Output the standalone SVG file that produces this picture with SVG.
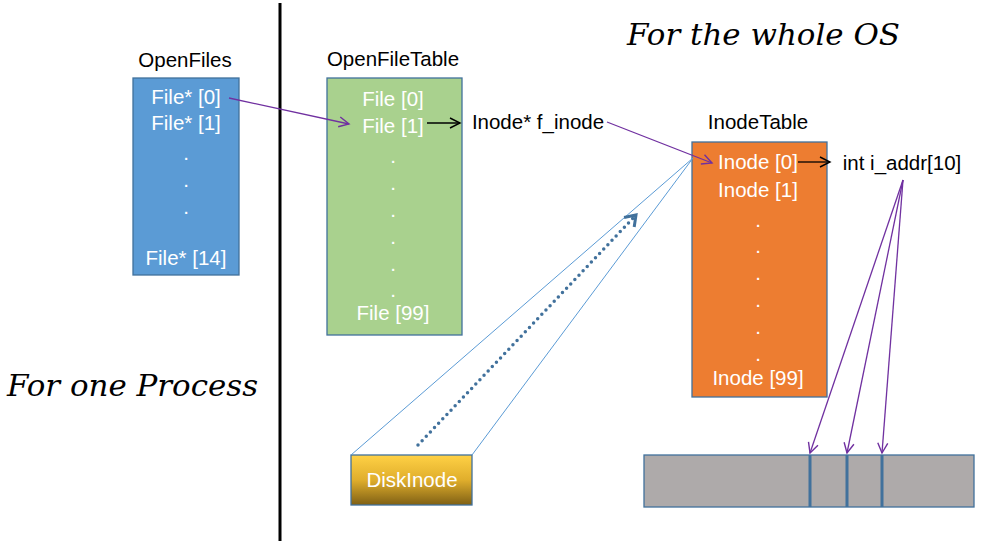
<svg xmlns="http://www.w3.org/2000/svg" width="984" height="542" viewBox="0 0 984 542">
<defs>
<style>
.t{font-family:"Liberation Sans",Arial,sans-serif;font-size:20.5px;text-anchor:middle}
.w{fill:#ffffff}
.k{fill:#000000}
.script{font-family:"DejaVu Serif","Liberation Serif",serif;font-style:italic;font-size:30px;fill:#000}
.box{stroke:#41719C;stroke-width:1.3}
.pur{stroke:#7030A0;stroke-width:1.3;fill:none}
.blk{stroke:#000;stroke-width:1.3;fill:none}
.fan{stroke:#5B9BD5;stroke-width:1;fill:none}
</style>
<marker id="ap" markerUnits="userSpaceOnUse" markerWidth="14" markerHeight="14" refX="12" refY="7" orient="auto" viewBox="0 0 14 14">
<path d="M2,2 L12,7 L2,12" fill="none" stroke="#7030A0" stroke-width="1.4"/>
</marker>
<marker id="ak" markerUnits="userSpaceOnUse" markerWidth="14" markerHeight="14" refX="12" refY="7" orient="auto" viewBox="0 0 14 14">
<path d="M2,2 L12,7 L2,12" fill="none" stroke="#000" stroke-width="1.4"/>
</marker>
<marker id="ab" markerUnits="userSpaceOnUse" markerWidth="18" markerHeight="18" refX="14" refY="9" orient="auto" viewBox="0 0 18 18">
<path d="M4,2 L14,9 L4,16" fill="none" stroke="#41719C" stroke-width="3"/>
</marker>
<linearGradient id="gold" x1="0" y1="0" x2="0" y2="1">
<stop offset="0" stop-color="#FFD145"/>
<stop offset="0.5" stop-color="#E0AE2C"/>
<stop offset="1" stop-color="#7F6015"/>
</linearGradient>
</defs>
<rect width="984" height="542" fill="#ffffff"/>

<line x1="280" y1="3" x2="280" y2="541" stroke="#000" stroke-width="3"/>

<text class="script" x="627" y="45" textLength="273" lengthAdjust="spacingAndGlyphs">For the whole OS</text>
<text class="script" x="7" y="396" textLength="251" lengthAdjust="spacingAndGlyphs">For one Process</text>

<g id="openfiles">
<text class="t k" x="185" y="67">OpenFiles</text>
<rect class="box" x="133" y="78" width="106" height="197" fill="#5B9BD5"/>
<text class="t w" x="186" y="104">File* [0]</text>
<text class="t w" x="186" y="130">File* [1]</text>
<text class="t w" x="186" y="160">.</text>
<text class="t w" x="186" y="187">.</text>
<text class="t w" x="186" y="214">.</text>
<text class="t w" x="186" y="265">File* [14]</text>
</g>

<g id="openfiletable">
<text class="t k" x="393" y="66">OpenFileTable</text>
<rect class="box" x="327" y="78" width="135" height="257" fill="#A9D18E"/>
<text class="t w" x="393" y="106">File [0]</text>
<text class="t w" x="393" y="133">File [1]</text>
<text class="t w" x="393" y="163">.</text>
<text class="t w" x="393" y="190">.</text>
<text class="t w" x="393" y="217">.</text>
<text class="t w" x="393" y="244">.</text>
<text class="t w" x="393" y="271">.</text>
<text class="t w" x="393" y="297">.</text>
<text class="t w" x="393" y="320">File [99]</text>
</g>

<g id="finode">
<text class="t k" x="538" y="129">Inode* f_inode</text>
</g>

<g id="inodetable">
<text class="t k" x="758" y="129">InodeTable</text>
<rect class="box" x="692" y="142" width="135" height="255" fill="#ED7D31"/>
<text class="t w" x="758" y="169">Inode [0]</text>
<text class="t w" x="758" y="197">Inode [1]</text>
<text class="t w" x="758" y="227">.</text>
<text class="t w" x="758" y="253">.</text>
<text class="t w" x="758" y="280">.</text>
<text class="t w" x="758" y="307">.</text>
<text class="t w" x="758" y="334">.</text>
<text class="t w" x="758" y="361">.</text>
<text class="t w" x="758" y="385">Inode [99]</text>
</g>

<g id="iaddr">
<text class="t k" x="902" y="170">int i_addr[10]</text>
</g>

<g id="diskinode">
<rect class="box" x="351" y="455" width="121" height="50" fill="url(#gold)"/>
<text class="t w" x="412" y="487">DiskInode</text>
</g>

<g id="disk">
<rect class="box" x="644" y="455" width="330" height="52" fill="#AEAAAA"/>
<line x1="810" y1="455" x2="810" y2="507" stroke="#41719C" stroke-width="3"/>
<line x1="847" y1="455" x2="847" y2="507" stroke="#41719C" stroke-width="3"/>
<line x1="882" y1="455" x2="882" y2="507" stroke="#41719C" stroke-width="3"/>
</g>

<g id="connectors">
<line class="pur" x1="229" y1="98" x2="349" y2="124" marker-end="url(#ap)"/>
<line class="blk" x1="427" y1="123" x2="460" y2="123" marker-end="url(#ak)"/>
<line class="pur" x1="607" y1="122" x2="712" y2="163" marker-end="url(#ap)"/>
<line class="blk" x1="798" y1="162" x2="830" y2="162" marker-end="url(#ak)"/>
<line class="pur" x1="903" y1="180" x2="810" y2="453" marker-end="url(#ap)"/>
<line class="pur" x1="903" y1="180" x2="847" y2="453" marker-end="url(#ap)"/>
<line class="pur" x1="903" y1="180" x2="882" y2="453" marker-end="url(#ap)"/>
<line class="fan" x1="351" y1="455" x2="693" y2="158"/>
<line class="fan" x1="472" y1="455" x2="693" y2="158"/>
<line x1="418" y1="445" x2="636" y2="215" stroke="#41719C" stroke-width="3.5" stroke-linecap="round" stroke-dasharray="0 6" marker-end="url(#ab)"/>
</g>
</svg>
